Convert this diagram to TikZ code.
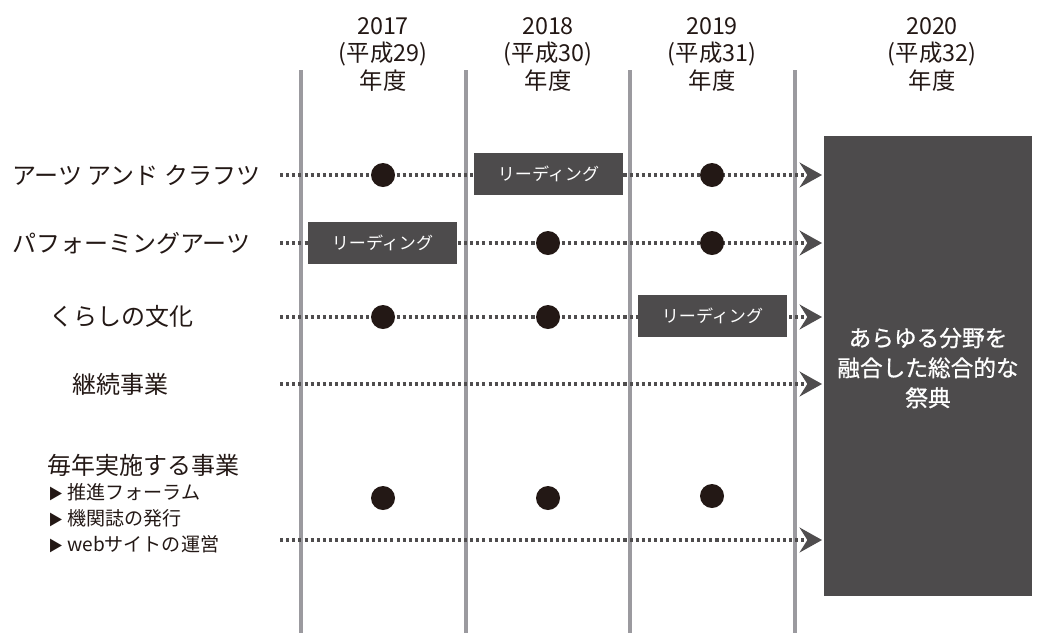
\documentclass[tikz,border=0pt]{standalone}
\usepackage{fontspec}
\setmainfont{Noto Sans CJK JP}
\newfontfamily\medfont[FakeBold=0.8]{Noto Sans CJK JP}
\usetikzlibrary{arrows.meta}
\definecolor{vline}{HTML}{9B9A9F}
\definecolor{boxc}{HTML}{4D4B4C}
\definecolor{dotc}{HTML}{231815}
\definecolor{dline}{HTML}{4F4D4E}
\definecolor{txt}{HTML}{231815}
\begin{document}
\begin{tikzpicture}[x=0.75pt,y=-0.75pt,
  yearlbl/.style={text=txt,align=center,font=\fontsize{17.5}{20.6}\selectfont,anchor=north,inner sep=0pt},
  rowlbl/.style={text=txt,font=\fontsize{18}{22}\selectfont},
  sublbl/.style={text=txt,font=\fontsize{14.3}{18}\selectfont,anchor=west,inner sep=0pt},
  vbar/.style={draw=vline,line width=3.6pt},
  dotrow/.style={draw=dline,line width=2.3pt,dash pattern=on 2.3pt off 2.3pt,
     -{Stealth[length=17pt,width=19pt,inset=6pt,fill=dline,line width=0pt]}},
  blackdot/.style={circle,fill=dotc,minimum size=18pt,inner sep=0pt},
  readbox/.style={fill=boxc,text=white,minimum width=111.75pt,minimum height=31.5pt,inner sep=0pt,font=\fontsize{12.8}{14}\selectfont},
  bigbox/.style={fill=boxc,text=white,align=center,font=\medfont\fontsize{17}{22.5}\selectfont}
]
\useasboundingbox (0,0) rectangle (1048,633);
% year labels
\node[yearlbl] (y1) at (383,17) {2017\\(平成29)\\年度};
\node[yearlbl] (y2) at (548,17) {2018\\(平成30)\\年度};
\node[yearlbl] (y3) at (712,17) {2019\\(平成31)\\年度};
\node[yearlbl] (y4) at (932,17) {2020\\(平成32)\\年度};
% vertical bars
\foreach \x/\n in {301/a,466/b,630/c,795/d}{
  \coordinate (t\n) at (\x,70);
  \coordinate (b\n) at (\x,633);
  \draw[vbar] (t\n) -- (b\n);
}
% row labels
\node[rowlbl,anchor=west,inner sep=0pt] (r1) at (12,175) {アーツ\ アンド\ クラフツ};
\node[rowlbl,anchor=west,inner sep=0pt] (r2) at (12,243) {パフォーミングアーツ};
\node[rowlbl] (r3) at (121,316) {くらしの文化};
\node[rowlbl] (r4) at (120,384) {継続事業};
\node[rowlbl,anchor=west,inner sep=0pt] (r5) at (47,465) {毎年実施する事業};
\node[sublbl] (s1) at (48,492) {\fontsize{11}{12}\selectfont ▶\fontsize{14.3}{18}\selectfont\ 推進フォーラム};
\node[sublbl] (s2) at (48,518) {\fontsize{11}{12}\selectfont ▶\fontsize{14.3}{18}\selectfont\ 機関誌の発行};
\node[sublbl] (s3) at (48,544) {\fontsize{11}{12}\selectfont ▶\fontsize{14.3}{18}\selectfont\ webサイトの運営};
% dotted connectors
\foreach \y/\n in {175/1,243/2,317/3,384/4,540/5}{
  \coordinate (ls\n) at (280,\y);
  \coordinate (le\n) at (822,\y);
  \draw[dotrow] (ls\n) -- (le\n);
}
% dots
\node[blackdot] (d11) at (383,175) {};
\node[blackdot] (d13) at (712,175) {};
\node[blackdot] (d22) at (548,243) {};
\node[blackdot] (d23) at (712,243) {};
\node[blackdot] (d31) at (383,317) {};
\node[blackdot] (d32) at (548,317) {};
\node[blackdot] (d51) at (383,498) {};
\node[blackdot] (d52) at (548,498) {};
\node[blackdot] (d53) at (712,496) {};
% reading boxes
\node[readbox] (rb1) at (548.5,173.5) {リーディング};
\node[readbox] (rb2) at (382.5,242.5) {リーディング};
\node[readbox] (rb3) at (712.5,315.5) {リーディング};
% big box
\fill[boxc] (824,136) rectangle (1032,596);
\node[bigbox] (big) at (928,368) {あらゆる分野を\\融合した総合的な\\祭典};
\end{tikzpicture}
\end{document}
